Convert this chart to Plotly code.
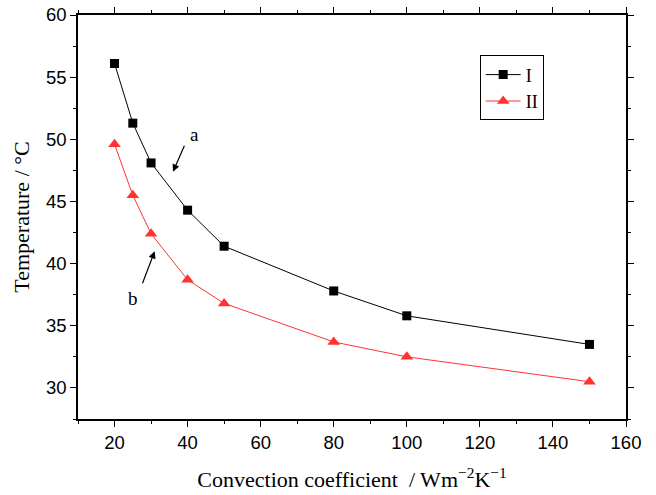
import plotly.graph_objects as go

h_values = [20, 25, 30, 40, 50, 80, 100, 150]
temp_I = [56.1, 51.3, 48.1, 44.3, 41.4, 37.8, 35.8, 33.5]
temp_II = [49.6, 45.5, 42.4, 38.7, 36.8, 33.7, 32.5, 30.5]
series_names = ["I", "II"]

fig = go.Figure()
fig.add_trace(go.Scatter(x=h_values, y=temp_I, mode="lines+markers", name=series_names[0],
                         line=dict(color="black", width=1),
                         marker=dict(symbol="square", size=9, color="black")))
fig.add_trace(go.Scatter(x=h_values, y=temp_II, mode="lines+markers", name=series_names[1],
                         line=dict(color="#ff3333", width=1),
                         marker=dict(symbol="triangle-up", size=11, color="#ff3333")))

serif = "Liberation Serif, Times New Roman, serif"
sans = "Liberation Sans, Arial, sans-serif"

fig.add_annotation(x=36, y=47.4, ax=39.3, ay=49.6, xref="x", yref="y", axref="x", ayref="y",
                   showarrow=True, arrowhead=2, arrowsize=1.2, arrowwidth=1.2, arrowcolor="black", text="")
fig.add_annotation(x=42, y=50.4, text="a", showarrow=False, font=dict(family=serif, size=19, color="black"))
fig.add_annotation(x=31, y=41.0, ax=27.5, ay=38.3, xref="x", yref="y", axref="x", ayref="y",
                   showarrow=True, arrowhead=2, arrowsize=1.2, arrowwidth=1.2, arrowcolor="black", text="")
fig.add_annotation(x=25, y=37.2, text="b", showarrow=False, font=dict(family=serif, size=19, color="black"))

axis_common = dict(showline=True, linecolor="black", linewidth=1.5, mirror="ticks",
                   ticks="outside", ticklen=6, tickwidth=1.2, tickcolor="black",
                   showgrid=False, zeroline=False, automargin=False, ticklabeloverflow="allow",
                   tickfont=dict(family=sans, size=18.5, color="black"),
                   minor=dict(ticks="outside", ticklen=3, tickwidth=1, tickcolor="black"))

fig.update_xaxes(range=[10, 160], tickmode="array", tickvals=[20, 40, 60, 80, 100, 120, 140, 160],
                 ticktext=["20", "40", "60", "80", "100", "120", "140", "160"],
                 minor_dtick=10, minor_tick0=10,
                 title=dict(text="Convection coefficient  / Wm<sup>−2</sup>K<sup>−1</sup>",
                            font=dict(family=serif, size=22, color="black"), standoff=20),
                 **axis_common)
fig.update_yaxes(range=[27.5, 60], tickmode="array", tickvals=[30, 35, 40, 45, 50, 55, 60],
                 ticktext=["30", "35", "40", "45", "50", "55", "60"],
                 minor_dtick=2.5, minor_tick0=27.5,
                 title=dict(text="Temperature / °C", font=dict(family=serif, size=22, color="black"), standoff=10),
                 **axis_common)

fig.update_layout(width=656, height=495, margin=dict(l=78, r=30, t=15, b=76),
                  plot_bgcolor="white", paper_bgcolor="white",
                  legend=dict(x=0.733, y=0.9, xanchor="left", yanchor="top",
                              bordercolor="black", borderwidth=1, bgcolor="white",
                              font=dict(family=serif, size=18, color="black"),
                              tracegroupgap=0, itemwidth=35),
                  showlegend=True)

fig.write_html("out.html", config={"displayModeBar": False},
               post_script="document.body.style.margin='0';")
